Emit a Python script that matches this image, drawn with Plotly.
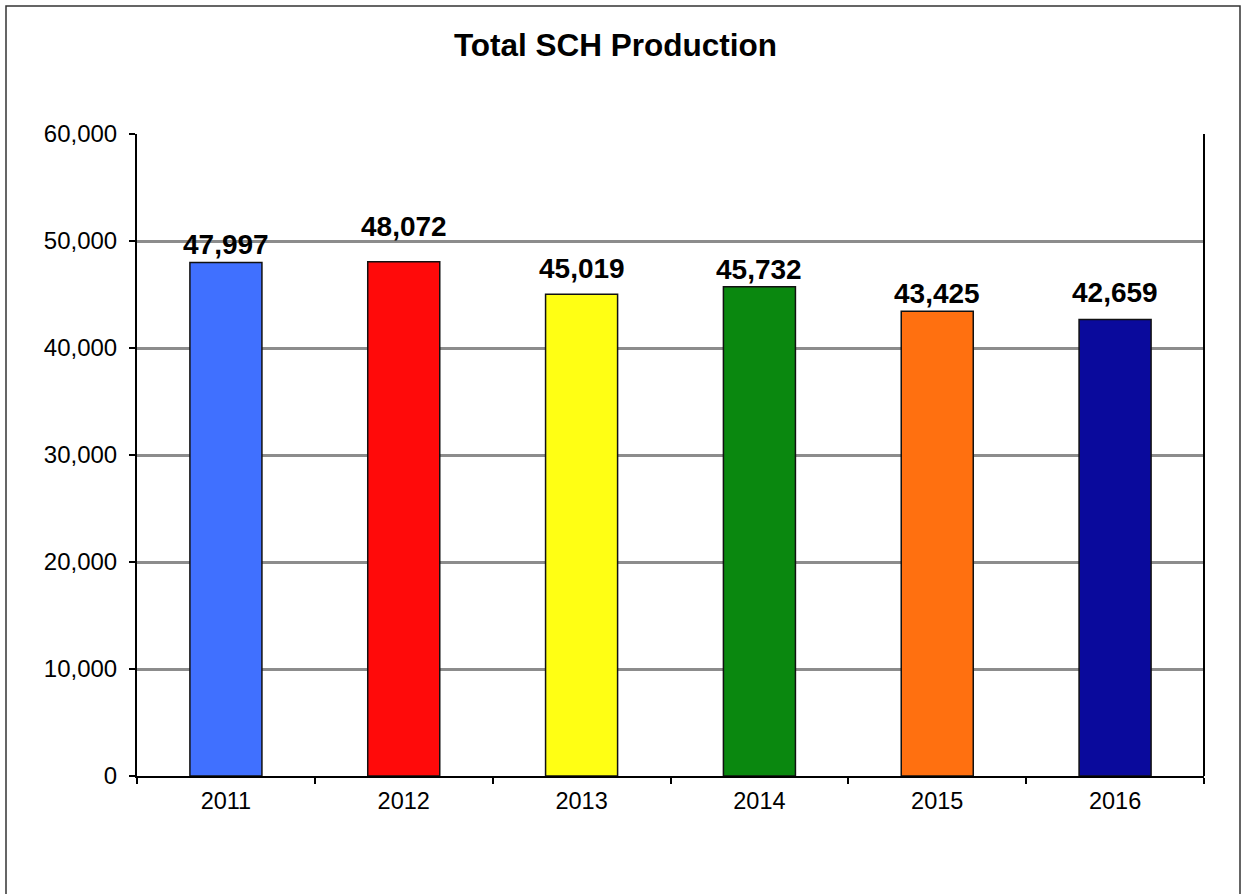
import plotly.graph_objects as go

years = ["2011", "2012", "2013", "2014", "2015", "2016"]
values = [47997, 48072, 45019, 45732, 43425, 42659]
colors = ["#4070FF", "#FF0A0A", "#FFFF14", "#0A880F", "#FF7010", "#0A0A9C"]
y_ticks = [0, 10000, 20000, 30000, 40000, 50000, 60000]
# vertical gap (px) between each bar top and its label, as placed in the reference
label_gaps = [7, 25, 15, 7, 7, 17]

W, H = 1243, 894
L, R, T, B = 137, 39, 134, 118
pw, ph = W - L - R, H - T - B
FONT = "Liberation Sans, Arial, sans-serif"

def px_to_paper_x(x):
    return (x - L) / pw

def px_to_paper_y(y):
    return (H - B - y) / ph

fig = go.Figure(go.Bar(
    x=years, y=values,
    marker=dict(color=colors, line=dict(color="#111111", width=1.5)),
    width=0.405,
    hoverinfo="x+y",
))

for i, (v, g) in enumerate(zip(values, label_gaps)):
    fig.add_annotation(
        x=i, y=v, xref="x", yref="y", text=f"<b>{v:,}</b>", showarrow=False,
        xanchor="center", yanchor="bottom", yshift=g - 7,
        font=dict(family=FONT, size=28, color="black"),
    )

fig.update_layout(
    width=W, height=H,
    margin=dict(l=L, r=R, t=T, b=B),
    paper_bgcolor="white", plot_bgcolor="white",
    showlegend=False,
    title=dict(text="<b>Total SCH Production</b>", x=615.5 / W, xanchor="center",
               y=1 - 45 / H, yanchor="middle",
               font=dict(family=FONT, size=31.5, color="black")),
    font=dict(family=FONT, size=24, color="black"),
    xaxis=dict(type="category", categoryorder="array", categoryarray=years,
               range=[-0.5, len(years) - 0.5], autorange=False,
               showline=True, linecolor="black", linewidth=2,
               ticks="outside", tickson="boundaries", ticklen=6, tickcolor="black",
               tickwidth=1.5, tickfont=dict(size=23.5), showgrid=False,
               ticklabelstandoff=3),
    yaxis=dict(range=[0, 60000], autorange=False, tickvals=y_ticks, tickformat=",",
               showline=True, linecolor="black", linewidth=2,
               ticks="outside", ticklen=6, tickcolor="black", tickwidth=1.5,
               showgrid=True, gridcolor="#8c8c8c", gridwidth=2.5,
               zeroline=False, tickfont=dict(size=24), ticklabelstandoff=7),
    bargap=0.595,
    shapes=[
        dict(type="line", xref="paper", yref="paper", x0=1, x1=1, y0=0, y1=1,
             line=dict(color="black", width=2)),
        dict(type="rect", xref="paper", yref="paper",
             x0=px_to_paper_x(6), x1=px_to_paper_x(1240),
             y0=px_to_paper_y(905), y1=px_to_paper_y(6),
             line=dict(color="#333333", width=1.5), fillcolor="rgba(0,0,0,0)",
             layer="below"),
    ],
)

fig.write_html("out.html", config={"displayModeBar": False},
               post_script="document.body.style.margin='0px';")
